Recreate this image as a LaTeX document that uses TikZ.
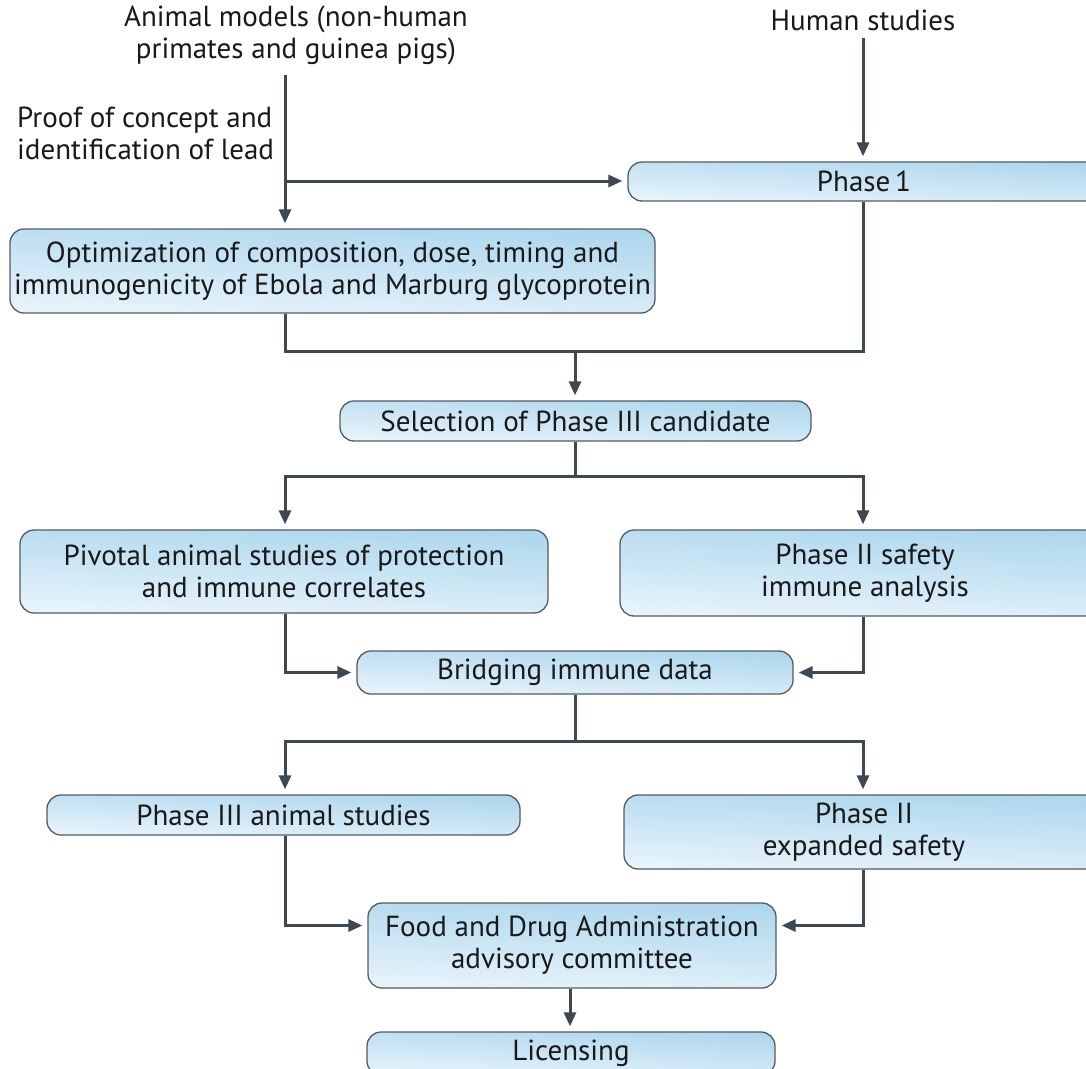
\documentclass[tikz,border=0pt]{standalone}
\usepackage{fontspec}
\setmainfont{PT Sans}
\usetikzlibrary{arrows.meta,calc}
\definecolor{linec}{HTML}{3D4853}
\definecolor{boxdark}{HTML}{ADD6ED}
\definecolor{boxlight}{HTML}{E8F4FB}
\definecolor{boxline}{HTML}{555B60}
\tikzset{
  box/.style={draw=boxline, line width=1.3pt, rounded corners=14pt, shading=axis,
    top color=boxdark, bottom color=boxlight, shading angle=-3,
    align=center, inner sep=0pt, font=\fontsize{29}{32}\selectfont, text=black!90},
  lbl/.style={align=center, inner sep=0pt, font=\fontsize{29}{32}\selectfont, text=black!90},
  conn/.style={draw=linec, line width=3pt},
  arr/.style={conn, -{Triangle[length=14pt,width=12pt]}, shorten >=5pt}
}
\begin{document}
\begin{tikzpicture}[x=1pt,y=-1pt]
\useasboundingbox (0,0) rectangle (1086,1068);
\clip (0,0) rectangle (1086,1068);
\fill[white] (0,0) rectangle (1086,1068);

% texts
\node[lbl] (am) at (296,35) {Animal models (non-human\\primates and guinea pigs)};
\node[lbl] (hs) at (863,20) {Human studies};
\node[lbl, align=left, anchor=west] (pc) at (17,133) {Proof of concept and\\identification of lead};

% boxes
\node[box, minimum width=472, minimum height=39] (p1) at (864,181.5) {Phase\,1};
\node[box, minimum width=645, minimum height=84] (opt) at (332.5,271) {Optimization of composition, dose, timing and\\immunogenicity of Ebola and Marburg glycoprotein};
\node[box, minimum width=471, minimum height=40] (sel) at (575.5,421) {Selection of Phase III candidate};
\node[box, minimum width=528, minimum height=83] (piv) at (284,571.5) {Pivotal animal studies of protection\\and immune correlates};
\node[box, minimum width=490, minimum height=86] (p2s) at (865,573) {Phase II safety\\immune analysis};
\node[box, minimum width=436, minimum height=43] (br) at (575,672.5) {Bridging immune data};
\node[box, minimum width=473, minimum height=40] (p3a) at (283.5,815) {Phase III animal studies};
\node[box, minimum width=480, minimum height=74] (p2e) at (864,832) {Phase II\\expanded safety};
\node[box, minimum width=408, minimum height=85] (fda) at (572,945.5) {Food and Drug Administration\\advisory committee};
\node[box, minimum width=408, minimum height=43] (lic) at (571,1053.5) {Licensing};

% coordinates
\coordinate (a0) at (285,75);
\coordinate (a1) at (285,181);
\coordinate (h0) at (863,38);
\coordinate (j1) at (575,351);
\coordinate (j2) at (575,476);
\coordinate (j3) at (575,741);

% connectors
\draw[arr] (a0) -- (a0 |- opt.north);
\draw[arr] (a1) -- (a1 -| p1.west);
\draw[arr] (h0) -- (h0 |- p1.north);
\draw[conn] (a0 |- opt.south) -- (a0 |- j1) -- (h0 |- j1) -- (h0 |- p1.south);
\draw[arr] (j1) -- (j1 |- sel.north);
\draw[conn] (j2 |- sel.south) -- (j2);
\draw[arr] (j2) -| ($(a0 |- piv.north)$);
\draw[arr] (j2) -| ($(h0 |- p2s.north)$);
\draw[arr] (a0 |- piv.south) |- (br.west);
\draw[arr] (h0 |- p2s.south) |- (br.east);
\draw[conn] (j3 |- br.south) -- (j3);
\draw[arr] (j3) -| ($(a0 |- p3a.north)$);
\draw[arr] (j3) -| ($(h0 |- p2e.north)$);
\draw[arr] (a0 |- p3a.south) |- ($(fda.west)+(0,-20)$);
\draw[arr] (h0 |- p2e.south) |- ($(fda.east)+(0,-20)$);
\draw[arr] ($(fda.south)+(-2,0)$) -- ($(lic.north)+(-1,0)$);
\end{tikzpicture}
\end{document}
